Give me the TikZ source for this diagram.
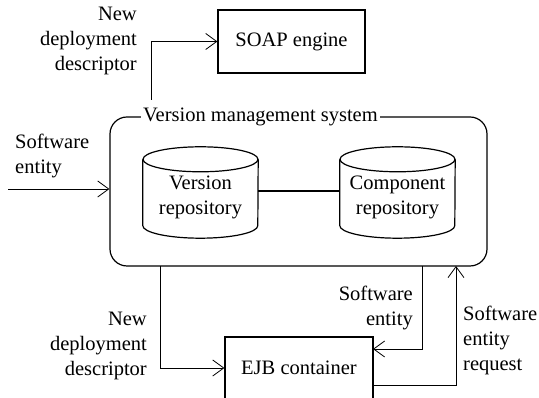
\documentclass[tikz,border=0pt]{standalone}
\usepackage{fontspec}
\setmainfont{Liberation Serif}
\usetikzlibrary{arrows.meta}
\begin{document}
\begin{tikzpicture}[x=1pt,y=1pt,
  font=\fontsize{20.5}{25}\selectfont,
  box/.style={draw,line width=1.2pt,inner sep=0pt},
  conn/.style={line width=0.8pt,-{Straight Barb[length=11pt,width=16pt,line width=0.8pt]}},
  lbl/.style={inner sep=0pt,align=#1},
  lbl/.default=center,
  txt/.style={inner sep=0pt,align=center}]
\useasboundingbox (0,0) rectangle (539,398);
% SOAP engine
\node[box,minimum width=147pt,minimum height=63pt] (soap) at (291.5,356.5) {SOAP engine};
% VMS
\node[draw,line width=1.2pt,rounded corners=17pt,minimum width=377pt,minimum height=149pt,inner sep=0pt] (vms) at (298.5,206.5) {};
\node[fill=white,inner xsep=2pt,inner ysep=0pt,anchor=west] (title) at (141,281) {Version management system};
% cylinders
\node[minimum width=115pt,minimum height=91pt,inner sep=0pt] (vr) at (200.5,205.5) {};
\node[minimum width=115pt,minimum height=91pt,inner sep=0pt] (cr) at (397.5,205.5) {};
\foreach \c in {vr,cr}{
  \draw[line width=1.2pt] ([yshift=-12.5pt]\c.north) ellipse [x radius=57.5pt,y radius=12.5pt];
  \draw[line width=1.2pt] ([yshift=-12.5pt]\c.north west) -- ([yshift=12.5pt]\c.south west) arc[start angle=180,end angle=360,x radius=57.5pt,y radius=12.5pt] -- ([yshift=-12.5pt]\c.north east);
}
\node[txt] (vrt) at (200.5,200.5) {Version\\repository};
\node[txt] (crt) at (397.5,200.5) {Component\\repository};
\draw[line width=2pt] ([yshift=1.5pt]vr.east) -- ([yshift=1.5pt]cr.west);
% EJB
\node[box,minimum width=148pt,minimum height=62pt] (ejb) at (299,30) {EJB container};
% connectors
\coordinate (in) at (8,209);
\draw[conn] (in) -- (vms.west |- in);
\node[lbl=left,anchor=west] (l1) at (15,242) {Software\\entity};
\coordinate (up) at (151,298);
\draw[conn] (up) |- (soap.west);
\node[lbl=right,anchor=east] (l2) at (137,357) {New\\deployment\\descriptor};
\coordinate (b1) at (160,132);
\draw[conn] (b1) |- (ejb.west);
\node[lbl=right,anchor=east] (l3) at (147,52) {New\\deployment\\descriptor};
\coordinate (b2) at (422,132);
\coordinate (e2) at (373,49);
\draw[conn] (b2) |- (e2);
\node[lbl=right,anchor=east] (l4) at (413,89.5) {Software\\entity};
\coordinate (e3) at (373,13);
\coordinate (b3) at (456,132);
\draw[conn] (e3) -| (b3);
\node[lbl=left,anchor=west] (l5) at (463,58) {Software\\entity\\request};
\end{tikzpicture}
\end{document}
